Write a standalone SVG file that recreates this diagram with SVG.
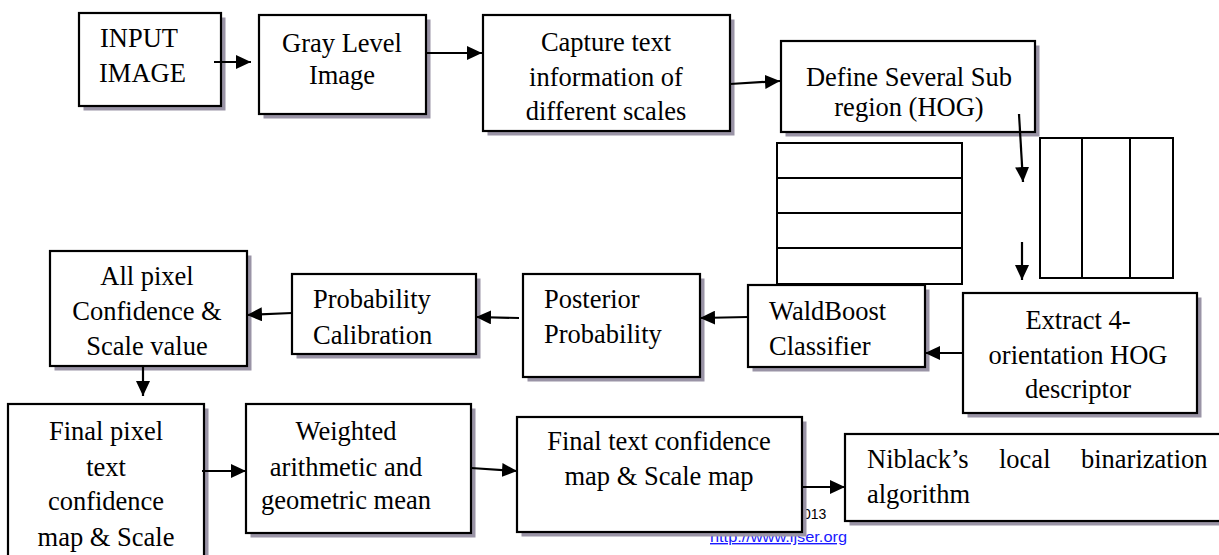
<svg xmlns="http://www.w3.org/2000/svg" width="1219" height="555" viewBox="0 0 1219 555">
<style>
.sh{fill:#9a94a6}
.bx{fill:#fff;stroke:#000;stroke-width:2.2}
.tb{fill:#fff;stroke:#000;stroke-width:2}
.ln{stroke:#000;stroke-width:2}
.t{font-family:"Liberation Serif","Times New Roman",serif;font-size:26.5px;fill:#000}
.c{text-anchor:middle}
.cn{stroke:#000;stroke-width:2.2;fill:none;marker-end:url(#ah)}
.sm{font-family:"Liberation Sans",Arial,sans-serif;font-size:14px}
</style>
<defs>
<marker id="ah" markerWidth="15" markerHeight="14" refX="15" refY="7" orient="auto" markerUnits="userSpaceOnUse">
<path d="M0,0 L15,7 L0,14 z" fill="#000"/>
</marker>
</defs>
<rect width="1219" height="555" fill="#fff"/>

<g id="footer">
<text class="sm" x="803" y="519" fill="#000">013</text>
<text class="sm" x="710" y="542" fill="#1a1aff" text-decoration="underline" textLength="137" lengthAdjust="spacingAndGlyphs">http://www.ijser.org</text>
</g>

<g id="input">
<rect class="sh" x="83.5" y="17.5" width="142" height="93"/>
<rect class="bx" x="79" y="13" width="142" height="93"/>
<text class="t" x="100" y="47">INPUT</text>
<text class="t" x="99" y="82">IMAGE</text>
</g>
<g id="gray">
<rect class="sh" x="263.5" y="19.5" width="167" height="99"/>
<rect class="bx" x="259" y="15" width="167" height="99"/>
<text class="t c" x="342" y="52">Gray Level</text>
<text class="t c" x="342" y="84">Image</text>
</g>
<g id="capture">
<rect class="sh" x="487.5" y="19.5" width="247" height="116"/>
<rect class="bx" x="483" y="15" width="247" height="116"/>
<text class="t c" x="606" y="51">Capture text</text>
<text class="t c" x="606" y="85.5">information of</text>
<text class="t c" x="606" y="120">different scales</text>
</g>
<g id="define">
<rect class="sh" x="785.5" y="45.5" width="254" height="91"/>
<rect class="bx" x="781" y="41" width="254" height="91"/>
<text class="t c" x="909" y="86">Define Several Sub</text>
<text class="t c" x="909" y="116">region (HOG)</text>
</g>
<g id="rows-grid">
<rect class="tb" x="777" y="143" width="185" height="141"/>
<line class="ln" x1="777" y1="178" x2="962" y2="178"/>
<line class="ln" x1="777" y1="213" x2="962" y2="213"/>
<line class="ln" x1="777" y1="248" x2="962" y2="248"/>
</g>
<g id="cols-grid">
<rect class="tb" x="1040" y="138" width="133" height="140"/>
<line class="ln" x1="1082" y1="138" x2="1082" y2="278"/>
<line class="ln" x1="1130" y1="138" x2="1130" y2="278"/>
</g>
<g id="extract">
<rect class="sh" x="967.5" y="297.5" width="234" height="120"/>
<rect class="bx" x="963" y="293" width="234" height="120"/>
<text class="t c" x="1078" y="329">Extract 4-</text>
<text class="t c" x="1078" y="364">orientation HOG</text>
<text class="t c" x="1078" y="398">descriptor</text>
</g>
<g id="waldboost">
<rect class="sh" x="752.5" y="289.5" width="177" height="82"/>
<rect class="bx" x="748" y="285" width="177" height="82"/>
<text class="t" x="769" y="320">WaldBoost</text>
<text class="t" x="769" y="355">Classifier</text>
</g>
<g id="posterior">
<rect class="sh" x="527.5" y="278.5" width="177" height="103"/>
<rect class="bx" x="523" y="274" width="177" height="103"/>
<text class="t" x="544" y="308">Posterior</text>
<text class="t" x="544" y="343">Probability</text>
</g>
<g id="calibration">
<rect class="sh" x="296.5" y="278.5" width="184" height="80"/>
<rect class="bx" x="292" y="274" width="184" height="80"/>
<text class="t" x="313" y="308">Probability</text>
<text class="t" x="313" y="344">Calibration</text>
</g>
<g id="allpixel">
<rect class="sh" x="54.5" y="255.5" width="197" height="115"/>
<rect class="bx" x="50" y="251" width="197" height="115"/>
<text class="t c" x="147" y="285">All pixel</text>
<text class="t c" x="147" y="320">Confidence &amp;</text>
<text class="t c" x="147" y="355">Scale value</text>
</g>
<g id="finalpixel">
<rect class="sh" x="12.5" y="408.5" width="196" height="161"/>
<rect class="bx" x="8" y="404" width="196" height="161"/>
<text class="t c" x="106" y="440">Final pixel</text>
<text class="t c" x="106" y="476">text</text>
<text class="t c" x="106" y="510">confidence</text>
<text class="t c" x="106" y="546">map &amp; Scale</text>
</g>
<g id="weighted">
<rect class="sh" x="250.5" y="408.5" width="225" height="129"/>
<rect class="bx" x="246" y="404" width="225" height="129"/>
<text class="t c" x="346" y="440">Weighted</text>
<text class="t c" x="346" y="476">arithmetic and</text>
<text class="t c" x="346" y="509">geometric mean</text>
</g>
<g id="finaltext">
<rect class="sh" x="521.5" y="421.5" width="285" height="115"/>
<rect class="bx" x="517" y="417" width="285" height="115"/>
<text class="t c" x="659" y="450">Final text confidence</text>
<text class="t c" x="659" y="485">map &amp; Scale map</text>
</g>
<g id="niblack">
<rect class="sh" x="849.5" y="438.5" width="380" height="87"/>
<rect class="bx" x="845" y="434" width="380" height="87"/>
<text class="t" y="468"><tspan x="867">Niblack’s</tspan><tspan x="999">local</tspan><tspan x="1081">binarization</tspan></text>
<text class="t" x="867" y="503">algorithm</text>
</g>

<g id="connectors">
<line class="cn" x1="214" y1="62" x2="251" y2="62"/>
<line class="cn" x1="426" y1="53" x2="482" y2="53"/>
<line class="cn" x1="730" y1="84" x2="780" y2="81"/>
<line class="cn" x1="1019" y1="114" x2="1023" y2="182"/>
<line class="cn" x1="1022" y1="242" x2="1022" y2="280"/>
<line class="cn" x1="963" y1="353" x2="925" y2="353"/>
<line class="cn" x1="748" y1="317" x2="700" y2="318"/>
<line class="cn" x1="519" y1="318" x2="476" y2="317"/>
<line class="cn" x1="292" y1="313" x2="247" y2="315"/>
<line class="cn" x1="143" y1="366" x2="143" y2="396"/>
<line class="cn" x1="202" y1="471" x2="246" y2="471"/>
<line class="cn" x1="471" y1="468" x2="517" y2="471"/>
<line class="cn" x1="802" y1="487" x2="845" y2="487"/>
</g>
</svg>
